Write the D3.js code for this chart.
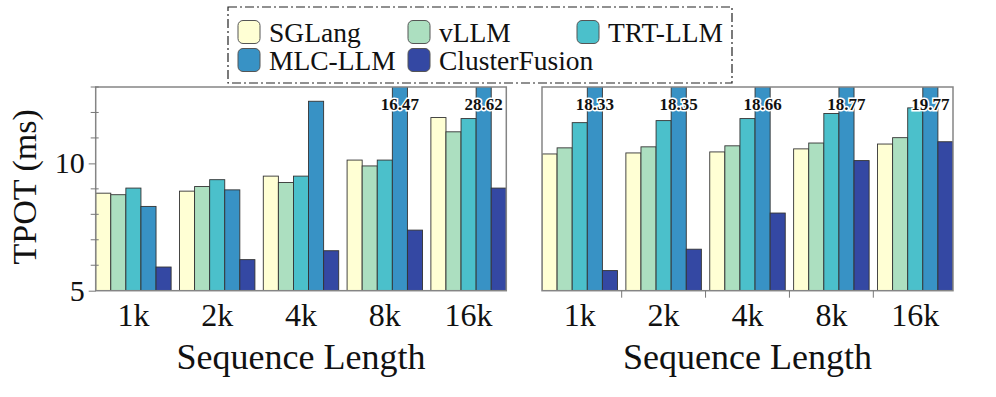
<!DOCTYPE html>
<html>
<head>
<meta charset="utf-8">
<script src="https://cdn.jsdelivr.net/npm/d3@7"></script>
<style>
  body { margin: 0; background: #fff; }
  svg text { font-family: "Liberation Serif", "DejaVu Serif", serif; fill: #111; }
</style>
</head>
<body>
<div id="chart"></div>
<script>
// categories and series
const categories = ['1k', '2k', '4k', '8k', '16k'];
const seriesNames = ['SGLang', 'vLLM', 'TRT-LLM', 'MLC-LLM', 'ClusterFusion'];
const seriesColors = ['#ffffd4', '#acdfc0', '#4bc0cb', '#3892c5', '#3448a3'];

// left panel values (TPOT, ms)
const sglangLeft = [8.83, 8.91, 9.50, 10.13, 11.80];
const vllmLeft = [8.77, 9.09, 9.25, 9.90, 11.24];
const trtLeft = [9.03, 9.36, 9.50, 10.13, 11.76];
const mlcLeft = [8.31, 8.96, 12.44, 16.47, 28.62];
const cfLeft = [5.93, 6.22, 6.57, 7.38, 9.03];

// right panel values (TPOT, ms)
const sglangRight = [10.37, 10.41, 10.45, 10.57, 10.76];
const vllmRight = [10.61, 10.65, 10.69, 10.80, 11.01];
const trtRight = [11.60, 11.68, 11.76, 11.96, 12.18];
const mlcRight = [18.33, 18.35, 18.66, 18.77, 19.77];
const cfRight = [5.79, 6.63, 8.05, 10.11, 10.85];

const yMajorTicks = [5, 10];
const yDomain = [5, 13];

const width = 996, height = 397;
const plotTop = 87, plotBottom = 290.7;

const svg = d3.select('#chart').append('svg')
  .attr('width', width)
  .attr('height', height);

const y = d3.scaleLinear().domain(yDomain).range([plotBottom, plotTop]);

function drawPanel(x0, x1, values, opts) {
  const g = svg.append('g');
  const clipId = 'clip' + Math.round(x0);
  svg.append('clipPath').attr('id', clipId)
    .append('rect').attr('x', x0).attr('y', plotTop).attr('width', x1 - x0).attr('height', plotBottom - plotTop);

  const x = d3.scaleBand().domain(categories).range([x0, x1]).paddingInner(0.1).paddingOuter(0);
  const xs = d3.scaleBand().domain(seriesNames).range([0, x.bandwidth()]);

  const rows = categories.map((c, i) => seriesNames.map((s, j) => ({ cat: c, s: s, j: j, v: values[j][i] })));

  // bars, clipped at the top of the frame
  const bars = g.append('g').attr('clip-path', 'url(#' + clipId + ')');
  rows.forEach(row => {
    bars.selectAll(null).data(row).enter().append('rect')
      .attr('x', d => x(d.cat) + xs(d.s))
      .attr('y', d => y(Math.min(d.v, yDomain[1] + 1)))
      .attr('width', xs.bandwidth())
      .attr('height', d => y(yDomain[0]) - y(Math.min(d.v, yDomain[1] + 1)))
      .attr('fill', d => seriesColors[d.j])
      .attr('stroke', '#333')
      .attr('stroke-width', 0.9);
  });

  // frame
  g.append('rect')
    .attr('x', x0).attr('y', plotTop)
    .attr('width', x1 - x0).attr('height', plotBottom - plotTop)
    .attr('fill', 'none').attr('stroke', '#858585').attr('stroke-width', 1.5);

  // labels for bars that go past the top
  const over = rows.flat().filter(d => d.v > yDomain[1]);
  g.selectAll('.vlab').data(over).enter().append('text')
    .attr('class', 'vlab')
    .attr('x', d => x(d.cat) + xs(d.s) + xs.bandwidth() / 2)
    .attr('y', 110)
    .attr('text-anchor', 'middle')
    .attr('font-size', 17)
    .attr('font-weight', 'bold')
    .attr('stroke', '#fff')
    .attr('stroke-width', 3)
    .attr('paint-order', 'stroke')
    .text(d => d.v.toFixed(2));

  // x tick labels
  g.selectAll('.xlab').data(categories).enter().append('text')
    .attr('x', d => x(d) + x.bandwidth() / 2)
    .attr('y', 326)
    .attr('text-anchor', 'middle')
    .attr('font-size', 32)
    .text(d => d);

  if (opts.boundaryTicks) {
    const edges = categories.slice(0, -1).map(c => x(c) + x.bandwidth() + x.step() * x.paddingInner() / 2);
    g.selectAll('.btick').data(edges).enter().append('line')
      .attr('x1', d => d).attr('x2', d => d)
      .attr('y1', plotBottom).attr('y2', plotBottom + 7)
      .attr('stroke', '#777').attr('stroke-width', 1);
  }

  // x axis title
  g.append('text')
    .attr('x', (x0 + x1) / 2)
    .attr('y', 369)
    .attr('text-anchor', 'middle')
    .attr('font-size', 36)
    .text('Sequence Length');

  if (opts.yAxis) {
    const minor = d3.range(yDomain[0], yDomain[1] + 1).filter(v => !yMajorTicks.includes(v));
    g.selectAll('.minor').data(minor).enter().append('line')
      .attr('x1', x0 - 5).attr('x2', x0 + 3)
      .attr('y1', d => y(d)).attr('y2', d => y(d))
      .attr('stroke', '#777').attr('stroke-width', 1);
    const axis = g.append('g')
      .attr('transform', 'translate(' + x0 + ',0)')
      .call(d3.axisLeft(y).tickValues(yMajorTicks).tickSize(7).tickPadding(4));
    axis.select('.domain').remove();
    axis.selectAll('line').attr('stroke', '#777');
    axis.selectAll('text').attr('font-size', 30).attr('fill', '#111')
      .attr('font-family', '"Liberation Serif", serif');

    g.append('text')
      .attr('transform', 'translate(36,' + ((plotTop + plotBottom) / 2 - 2) + ') rotate(-90)')
      .attr('text-anchor', 'middle')
      .attr('font-size', 34)
      .text('TPOT (ms)');
  }
}

drawPanel(95.7, 506.3, [sglangLeft, vllmLeft, trtLeft, mlcLeft, cfLeft], { yAxis: true });
drawPanel(542, 953, [sglangRight, vllmRight, trtRight, mlcRight, cfRight], { boundaryTicks: true });

// legend
const legend = svg.append('g');
legend.append('rect')
  .attr('x', 228).attr('y', 7).attr('width', 504).attr('height', 76)
  .attr('fill', '#fff').attr('stroke', '#222').attr('stroke-width', 1.2)
  .attr('stroke-dasharray', '9,3,2,3');

const legendCols = [238, 408, 577];
const legendRows = [32, 60];
const items = legend.selectAll('.item').data(seriesNames).enter().append('g')
  .attr('transform', (d, i) => 'translate(' + legendCols[i % 3] + ',' + legendRows[Math.floor(i / 3)] + ')');
items.append('rect')
  .attr('x', 0).attr('y', -11.5).attr('width', 22).attr('height', 23)
  .attr('rx', 5)
  .attr('fill', (d, i) => seriesColors[i])
  .attr('stroke', '#555').attr('stroke-width', 1);
items.append('text')
  .attr('x', 31).attr('y', 10)
  .attr('font-size', 27.5)
  .text(d => d);
</script>
</body>
</html>
